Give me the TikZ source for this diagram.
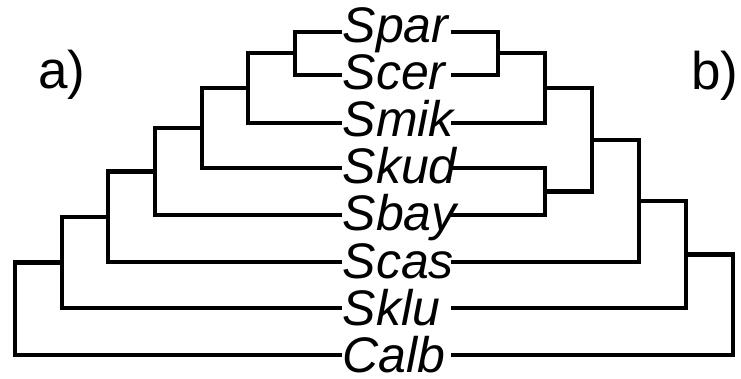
\documentclass[tikz,border=0pt]{standalone}
\usepackage{fontspec}
\setmainfont{Liberation Sans}
\begin{document}
\begin{tikzpicture}[x=1pt,y=-1pt,
  branch/.style={line width=4.3pt, line join=miter, line cap=butt},
  taxon/.style={anchor=base west, inner sep=0pt, font=\fontsize{50}{50}\selectfont\itshape},
  panel/.style={anchor=base west, inner sep=0pt, font=\fontsize{53}{53}\selectfont}]
\useasboundingbox (0,0) rectangle (741,379);

% taxon names, one row each
\foreach \id/\txt/\base in {spar/Spar/43, scer/Scer/90, smik/Smik/137,
    skud/Skud/184, sbay/Sbay/231, scas/Scas/278, sklu/Sklu/325, calb/Calb/372}
  \node[taxon] (\id) at (342.5,\base) {\txt};

% leaf tips: left tree ends at 342, right tree starts at 451
\foreach \id/\y in {spar/31.7, scer/75, smik/123, skud/168, sbay/215, scas/262, sklu/308, calb/355} {
  \coordinate (L-\id) at (342,\y);
  \coordinate (R-\id) at (451,\y);
}

% panel labels
\node[panel] (pa) at (38,89) {a)};
\node[panel] (pb) at (691,89.5) {b)};

% tree a): ladder rooted on the left
\coordinate (a1) at (295,53.3);
\coordinate (a2) at (248.3,88.2);
\coordinate (a3) at (201.7,128.1);
\coordinate (a4) at (155,171.5);
\coordinate (a5) at (108.3,216.8);
\coordinate (a6) at (61.7,262.4);
\coordinate (a7) at (15,308.7);
\draw[branch] (L-spar) -| (a1) |- (L-scer);
\draw[branch] (a1) -| (a2) |- (L-smik);
\draw[branch] (a2) -| (a3) |- (L-skud);
\draw[branch] (a3) -| (a4) |- (L-sbay);
\draw[branch] (a4) -| (a5) |- (L-scas);
\draw[branch] (a5) -| (a6) |- (L-sklu);
\draw[branch] (a6) -| (a7) |- (L-calb);

% tree b): rooted on the right, Skud and Sbay paired
\coordinate (b1) at (498,53.3);
\coordinate (b2) at (545,88.2);
\coordinate (b3) at (545,191.5);
\coordinate (b4) at (592,139.8);
\coordinate (b5) at (639,200.9);
\coordinate (b6) at (686,254.5);
\coordinate (b7) at (733,304.7);
\draw[branch] (R-spar) -| (b1) |- (R-scer);
\draw[branch] (b1) -| (b2) |- (R-smik);
\draw[branch] (R-skud) -| (b3) |- (R-sbay);
\draw[branch] (b2) -| (b4) |- (b3);
\draw[branch] (b4) -| (b5) |- (R-scas);
\draw[branch] (b5) -| (b6) |- (R-sklu);
\draw[branch] (b6) -| (b7) |- (R-calb);
\end{tikzpicture}
\end{document}
